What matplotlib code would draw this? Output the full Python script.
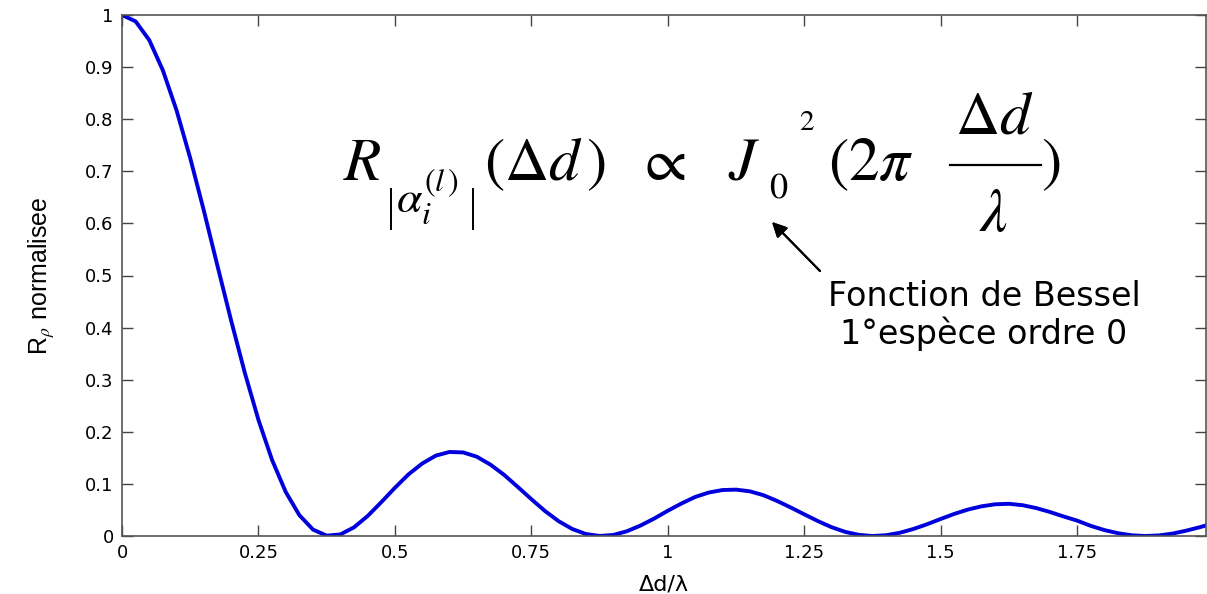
import numpy as np
import matplotlib.pyplot as plt

plt.rcParams['mathtext.fontset'] = 'stix'

# Normalised correlation vs delta d / lambda (step 0.025)
dd_lambda = [0.0, 0.025, 0.05, 0.075, 0.1, 0.125, 0.15, 0.175, 0.2, 0.225,
             0.25, 0.275, 0.3, 0.325, 0.35, 0.375, 0.4, 0.425, 0.45, 0.475,
             0.5, 0.525, 0.55, 0.575, 0.6, 0.625, 0.65, 0.675, 0.7, 0.725,
             0.75, 0.775, 0.8, 0.825, 0.85, 0.875, 0.9, 0.925, 0.95, 0.975,
             1.0, 1.025, 1.05, 1.075, 1.1, 1.125, 1.15, 1.175, 1.2, 1.225,
             1.25, 1.275, 1.3, 1.325, 1.35, 1.375, 1.4, 1.425, 1.45, 1.475,
             1.5, 1.525, 1.55, 1.575, 1.6, 1.625, 1.65, 1.675, 1.7, 1.725,
             1.75, 1.775, 1.8, 1.825, 1.85, 1.875, 1.9, 1.925, 1.95, 1.975,
             2.0]
r_norm = [1.0, 0.9877, 0.9517, 0.8935, 0.8168, 0.7253, 0.6243, 0.5181, 0.4133, 0.3133,
          0.2228, 0.1458, 0.0845, 0.0399, 0.0123, 0.0007, 0.0030, 0.0166, 0.0383, 0.0649,
          0.0925, 0.1184, 0.1391, 0.1543, 0.1613, 0.1604, 0.1522, 0.1370, 0.1174, 0.0943,
          0.0707, 0.0479, 0.0284, 0.0134, 0.0038, 0.0001, 0.0020, 0.0091, 0.0201, 0.0335,
          0.0485, 0.0624, 0.0749, 0.0834, 0.0882, 0.0890, 0.0858, 0.0784, 0.0674, 0.0548,
          0.0416, 0.0286, 0.0169, 0.0079, 0.0022, 0.0000, 0.0015, 0.0062, 0.0135, 0.0226,
          0.0327, 0.0425, 0.0508, 0.0570, 0.0609, 0.0618, 0.0591, 0.0536, 0.0461, 0.0375,
          0.0295, 0.0194, 0.0113, 0.0053, 0.0014, 0.0000, 0.0011, 0.0047, 0.0103, 0.0170,
          0.0243]

xticks = [0, 0.25, 0.5, 0.75, 1, 1.25, 1.5, 1.75]
xticklabels = ["0", "0.25", "0.5", "0.75", "1", "1.25", "1.5", "1.75"]
yticks = [0, 0.1, 0.2, 0.3, 0.4, 0.5, 0.6, 0.7, 0.8, 0.9, 1]
yticklabels = ["0", "0.1", "0.2", "0.3", "0.4", "0.5", "0.6", "0.7", "0.8", "0.9", "1"]

W, H = 1207, 594
fig = plt.figure(figsize=(W / 100, H / 100), dpi=100)
ax = fig.add_axes([122 / W, (H - 536) / H, (1206 - 122) / W, (536 - 15) / H])

ax.plot(dd_lambda, r_norm, color='#0000dd', lw=2.8)
ax.set_xlim(0, 1.986)
ax.set_ylim(0, 1)
ax.set_xticks(xticks)
ax.set_xticklabels(xticklabels)
ax.set_yticks(yticks)
ax.set_yticklabels(yticklabels)
ax.tick_params(direction='in', top=True, right=True, length=8, width=1,
               color='#444444', labelsize=13, pad=6)
for s in ax.spines.values():
    s.set_color('#555555')
    s.set_linewidth(1.2)

ax.set_xlabel("Δd/λ", fontsize=16, labelpad=9)
ax.set_ylabel(r"R$_{\rho}$ normalisee", fontsize=18, labelpad=20,
              fontfamily='Liberation Sans')


def px(x, y):
    return x / W, 1 - y / H


def vline(x, y0, y1, lw=1.4):
    fig.add_artist(plt.Line2D([x / W, x / W], [1 - y0 / H, 1 - y1 / H],
                              color='black', lw=lw))


# formula, placed piece by piece
fs = 44
fig.text(*px(343, 180), r"$R$", fontsize=fs, va='baseline')
vline(391, 189, 229)
vline(473, 189, 229)
fig.text(*px(396, 212), r"$\alpha_i^{(l\,)}$", fontsize=33, va='baseline')
fig.text(*px(484, 180), r"$(\Delta d\,)$", fontsize=fs, va='baseline')
fig.text(*px(636, 180), r"$\propto$", fontsize=fs, va='baseline')
fig.text(*px(728, 180), r"$J$", fontsize=fs, va='baseline')
fig.text(*px(769, 197), r"$0$", fontsize=26, va='baseline')
fig.text(*px(799, 130), r"$2$", fontsize=21, va='baseline')
fig.text(*px(828, 180), r"$(2\pi$", fontsize=fs, va='baseline')
fig.text(*px(994, 134), r"$\Delta d$", fontsize=fs, va='baseline', ha='center')
fig.text(*px(994, 231), r"$\lambda$", fontsize=fs, va='baseline', ha='center')
fig.add_artist(plt.Line2D([950 / W, 1041 / W], [1 - 165 / H, 1 - 165 / H],
                          color='black', lw=1.6))
fig.text(*px(1041, 180), r"$)$", fontsize=fs, va='baseline')

# arrow + Bessel note
fig.add_artist(plt.annotate("", xy=px(772, 222), xycoords='figure fraction',
                            xytext=px(820, 271), textcoords='figure fraction',
                            arrowprops=dict(arrowstyle='-|>', color='black', lw=1.5,
                                            mutation_scale=22, shrinkA=0, shrinkB=0)))
fig.text(*px(984, 297), "Fonction de Bessel", fontsize=24, ha='center', va='center')
fig.text(*px(984, 334), "1°espèce ordre 0", fontsize=24, ha='center', va='center')

fig.savefig("out.png", dpi=100)
